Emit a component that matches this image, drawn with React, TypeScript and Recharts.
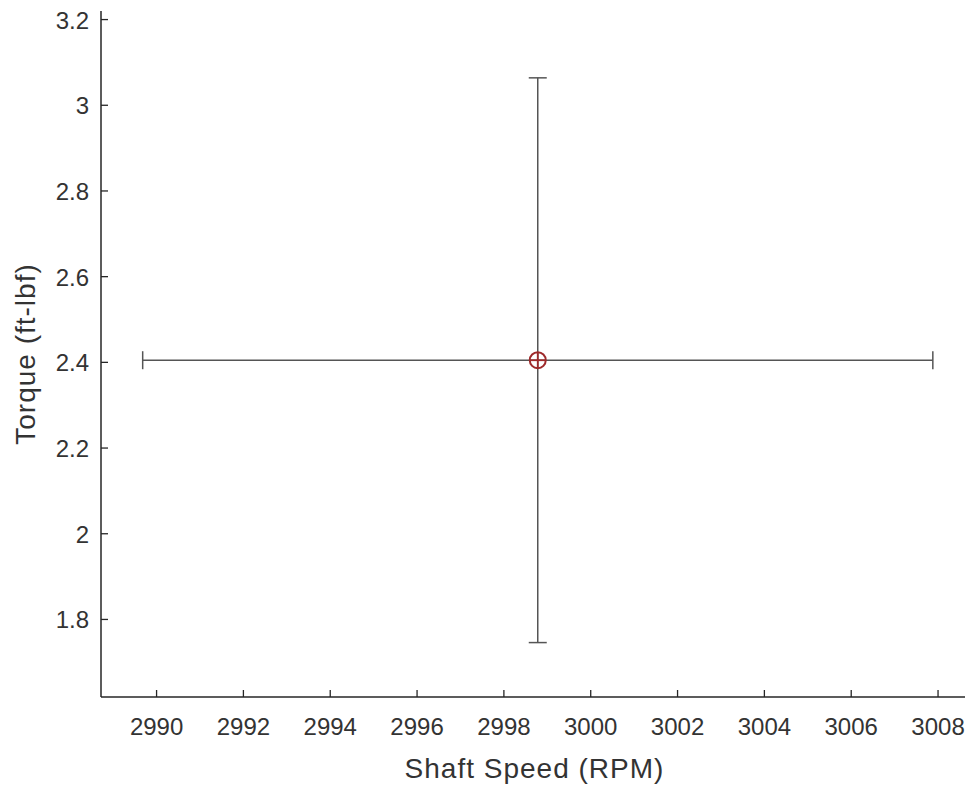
import { ScatterChart, Scatter, XAxis, YAxis, ErrorBar } from "recharts";

const SPEED = [2998.78];
const TORQUE = [2.405];
const SPEED_ERR = [9.1];
const TORQUE_ERR = [0.659];

const X_TICKS = [2990, 2992, 2994, 2996, 2998, 3000, 3002, 3004, 3006, 3008];
const Y_TICKS = [1.8, 2, 2.2, 2.4, 2.6, 2.8, 3, 3.2];

const X_DOMAIN = [2988.72, 3008.69];
const Y_DOMAIN = [1.619, 3.22];

const AXIS_COLOR = "#262626";
const TEXT_COLOR = "#333333";
const FONT = "'Liberation Sans', Arial, sans-serif";

const data = SPEED.map((x, i) => ({
  x,
  y: TORQUE[i],
  ex: SPEED_ERR[i],
  ey: TORQUE_ERR[i],
}));

function XTick({ x, y, payload }: any) {
  return (
    <g>
      <line x1={x} y1={y} x2={x} y2={y - 7} stroke={AXIS_COLOR} strokeWidth={1.3} />
      <text x={x} y={y + 38} textAnchor="middle" fontSize={24} fill={TEXT_COLOR} fontFamily={FONT}>
        {payload.value}
      </text>
    </g>
  );
}

function YTick({ x, y, payload }: any) {
  return (
    <g>
      <line x1={x} y1={y} x2={x + 7} y2={y} stroke={AXIS_COLOR} strokeWidth={1.3} />
      <text x={x - 12} y={y + 9} textAnchor="end" fontSize={24} fill={TEXT_COLOR} fontFamily={FONT}>
        {payload.value}
      </text>
    </g>
  );
}

// red circle with a plus, like the MATLAB marker
function Marker({ cx, cy }: any) {
  const c = "#9e2a2b";
  const r = 8;
  return (
    <g>
      <circle cx={cx} cy={cy} r={r} fill="none" stroke={c} strokeWidth={2} />
      <line x1={cx - r} y1={cy} x2={cx + r} y2={cy} stroke={c} strokeWidth={1.8} />
      <line x1={cx} y1={cy - r} x2={cx} y2={cy + r} stroke={c} strokeWidth={1.8} />
    </g>
  );
}

export default function App() {
  return (
    <div style={{ width: 965, height: 784, background: "#fff" }}>
      <ScatterChart
        width={965}
        height={784}
        margin={{ top: 3, right: 5, left: 0, bottom: 0 }}
      >
        <XAxis
          type="number"
          dataKey="x"
          domain={X_DOMAIN}
          ticks={X_TICKS}
          height={95}
          tickSize={0}
          tickMargin={0}
          tickLine={false}
          tick={<XTick />}
          axisLine={{ stroke: AXIS_COLOR, strokeWidth: 1.5 }}
          label={{
            content: ({ viewBox }: any) => (
              <text
                x={viewBox.x + viewBox.width / 2}
                y={viewBox.y + 81}
                textAnchor="middle"
                fontSize={28}
                letterSpacing={1}
                fill={TEXT_COLOR}
                fontFamily={FONT}
              >
                Shaft Speed (RPM)
              </text>
            ),
          }}
        />
        <YAxis
          type="number"
          dataKey="y"
          domain={Y_DOMAIN}
          ticks={Y_TICKS}
          width={93}
          tickSize={0}
          tickMargin={0}
          tickLine={false}
          tick={<YTick />}
          axisLine={{ stroke: AXIS_COLOR, strokeWidth: 1.5 }}
          label={{
            content: ({ viewBox }: any) => {
              const cx = 27;
              const cy = viewBox.y + viewBox.height / 2;
              return (
                <text
                  x={cx}
                  y={cy}
                  transform={`rotate(-90 ${cx} ${cy})`}
                  textAnchor="middle"
                  fontSize={28}
                  letterSpacing={1}
                  fill={TEXT_COLOR}
                  fontFamily={FONT}
                >
                  Torque (ft-lbf)
                </text>
              );
            },
          }}
        />
        <Scatter data={data} shape={<Marker />} isAnimationActive={false}>
          <ErrorBar dataKey="ex" direction="x" width={9} stroke="#555" strokeWidth={1.5} isAnimationActive={false} />
          <ErrorBar dataKey="ey" direction="y" width={9} stroke="#555" strokeWidth={1.5} isAnimationActive={false} />
        </Scatter>
      </ScatterChart>
    </div>
  );
}
